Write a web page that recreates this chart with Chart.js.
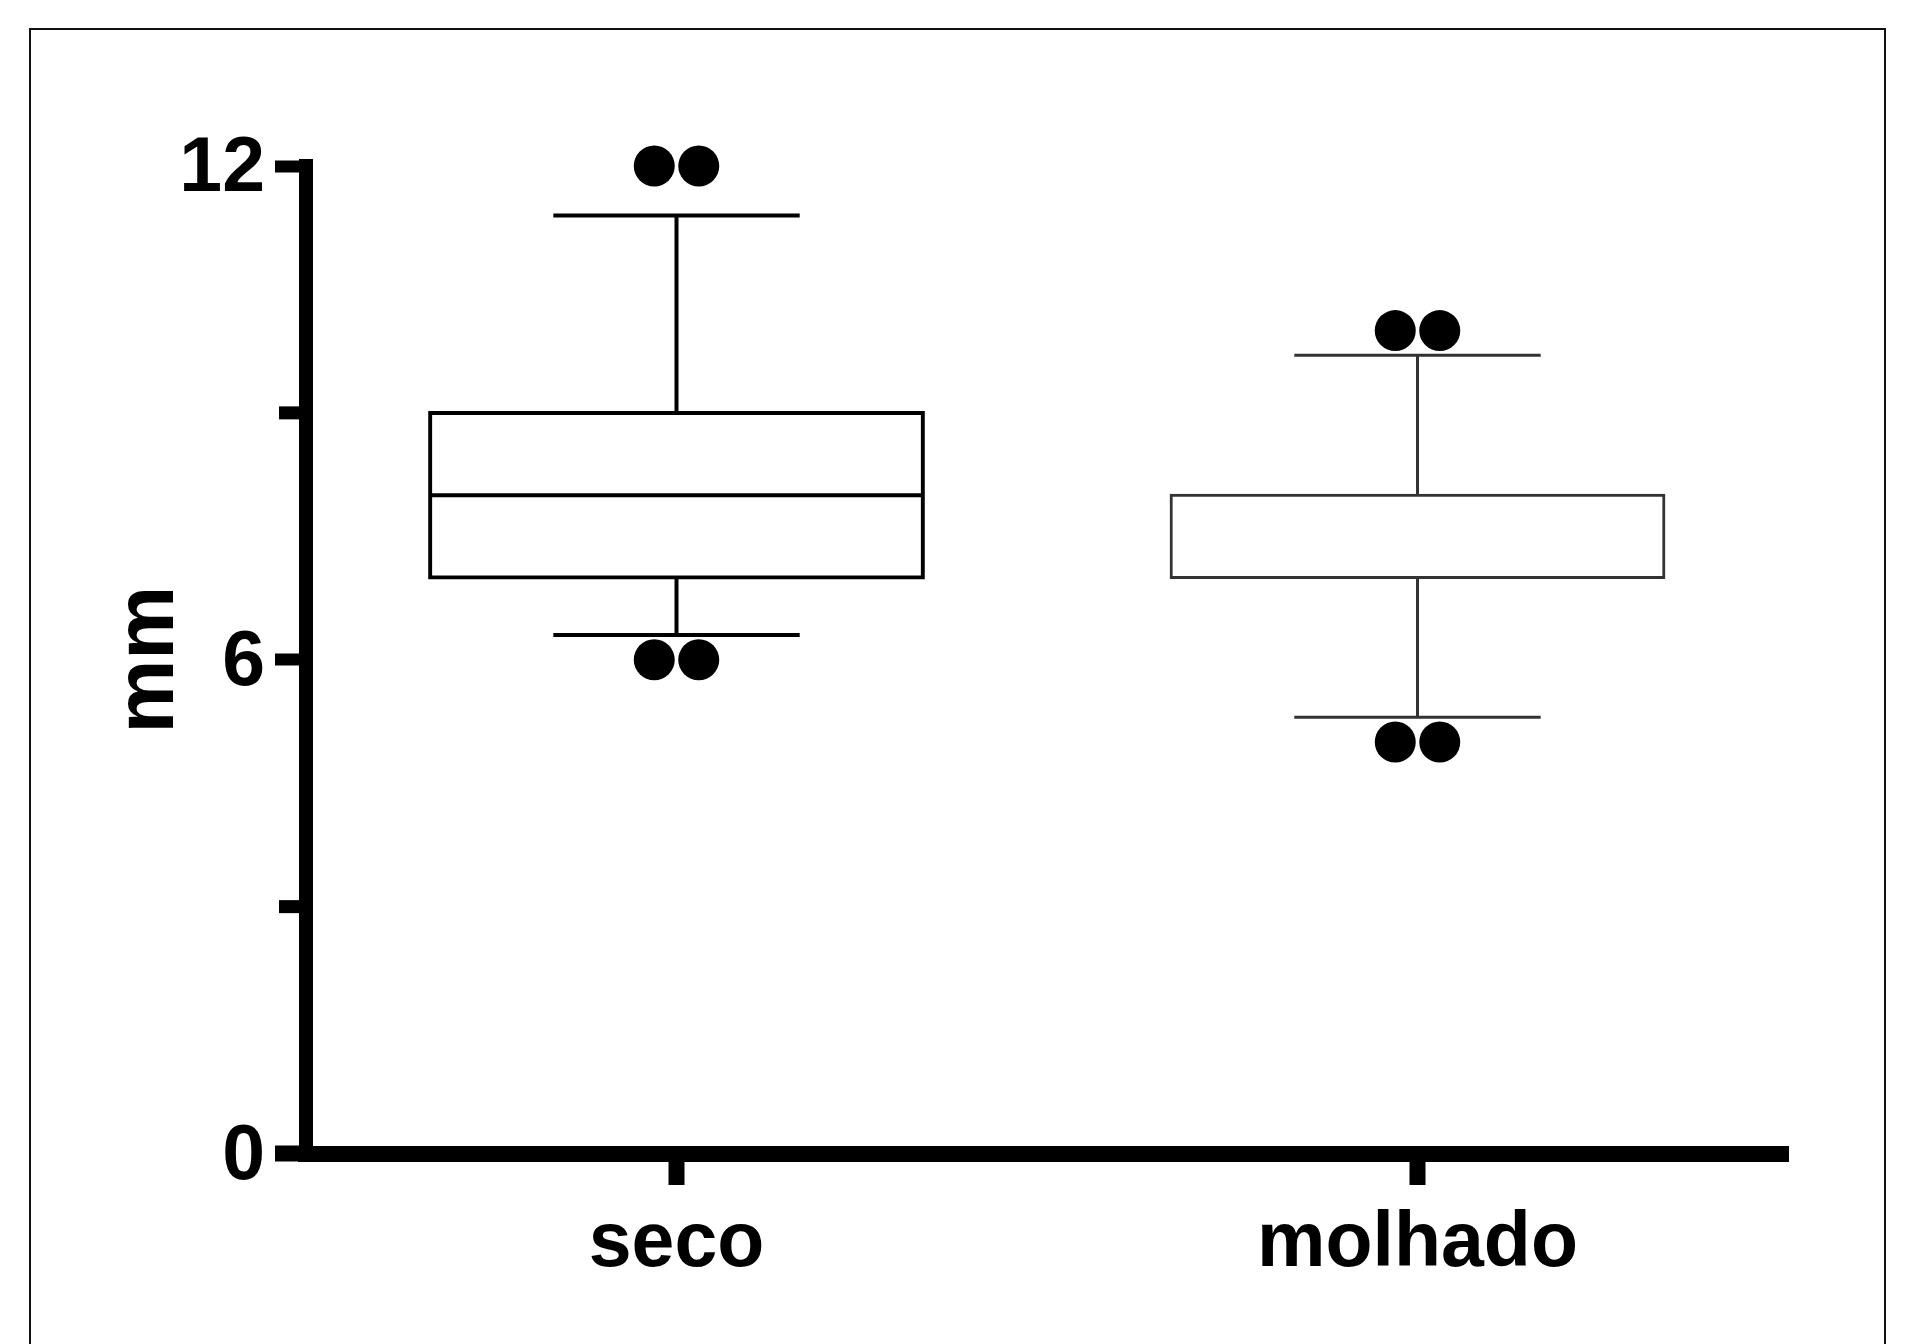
<!DOCTYPE html>
<html>
<head>
<meta charset="utf-8">
<title>seco x molhado</title>
<script src="https://cdn.jsdelivr.net/npm/chart.js@4.4.1/dist/chart.umd.min.js"></script>
<style>
    html, body { margin: 0; padding: 0; background: #fff; overflow: hidden; }
    #Wrap { position: relative; width: 1911px; height: 1344px; }
    #BoxChart { position: absolute; left: 0; top: 0; }
    #Frame { position: absolute; left: 29px; top: 28px; width: 1853px; height: 1400px;
             border: 2px solid #111; border-bottom: none; pointer-events: none; }
</style>
</head>
<body>
<div id="Wrap">
    <canvas id="BoxChart" width="1911" height="1344"></canvas>
    <div id="Frame"></div>
</div>
<script>
// values
var categories = ["seco", "molhado"];
var lowerQuartile = [7, 7];
var medianValue = [8, 7];
var upperQuartile = [9, 8];
var lowerWhisker = [6.3, 5.3];
var upperWhisker = [11.4, 9.7];
var outliersSeco = [12, 12, 6, 6];
var outliersMolhado = [10, 10, 5, 5];
var yTickValues = [0, 3, 6, 9, 12];
var yLabelValues = [0, 6, 12];

// looks
var fontFamily = "'Liberation Sans', Arial, Helvetica, sans-serif";
var boxColors = ["#000000", "#333333"];
var boxLineWidths = [4, 3];
var dotRadius = 20.5;
var dotSpacing = 44.5;

var boxPlotPlugin = {
    id: "boxPlot",
    afterDatasetsDraw: function (chart) {
        var ctx = chart.ctx;
        var y = chart.scales.y;
        var bars = chart.getDatasetMeta(0).data;
        var outliers = [outliersSeco, outliersMolhado];

        bars.forEach(function (bar, i) {
            var cx = bar.x;
            var half = bar.width / 2;
            var capHalf = bar.width / 4;
            ctx.save();
            ctx.strokeStyle = boxColors[i];
            ctx.lineWidth = boxLineWidths[i];
            ctx.lineCap = "butt";

            // whiskers
            ctx.beginPath();
            ctx.moveTo(cx, y.getPixelForValue(upperQuartile[i]));
            ctx.lineTo(cx, y.getPixelForValue(upperWhisker[i]));
            ctx.moveTo(cx - capHalf, y.getPixelForValue(upperWhisker[i]));
            ctx.lineTo(cx + capHalf, y.getPixelForValue(upperWhisker[i]));
            ctx.moveTo(cx, y.getPixelForValue(lowerQuartile[i]));
            ctx.lineTo(cx, y.getPixelForValue(lowerWhisker[i]));
            ctx.moveTo(cx - capHalf, y.getPixelForValue(lowerWhisker[i]));
            ctx.lineTo(cx + capHalf, y.getPixelForValue(lowerWhisker[i]));
            ctx.stroke();

            // median
            ctx.beginPath();
            ctx.moveTo(cx - half, y.getPixelForValue(medianValue[i]));
            ctx.lineTo(cx + half, y.getPixelForValue(medianValue[i]));
            ctx.stroke();
            ctx.restore();

            // outliers, tied values side by side
            var counts = {};
            outliers[i].forEach(function (v) { counts[v] = (counts[v] || 0) + 1; });
            var seen = {};
            ctx.save();
            ctx.fillStyle = "#000";
            outliers[i].forEach(function (v) {
                var k = seen[v] || 0;
                seen[v] = k + 1;
                var dx = (k - (counts[v] - 1) / 2) * dotSpacing;
                ctx.beginPath();
                ctx.arc(cx + dx, y.getPixelForValue(v), dotRadius, 0, Math.PI * 2);
                ctx.fill();
            });
            ctx.restore();
        });
    },
    afterDraw: function (chart) {
        // short minor ticks on the y axis
        var ctx = chart.ctx;
        var y = chart.scales.y;
        var left = chart.chartArea.left - 7;
        ctx.save();
        ctx.strokeStyle = "#000";
        ctx.lineWidth = 13;
        yTickValues.forEach(function (v) {
            if (yLabelValues.indexOf(v) !== -1) return;
            var py = y.getPixelForValue(v);
            ctx.beginPath();
            ctx.moveTo(left, py);
            ctx.lineTo(left - 20, py);
            ctx.stroke();
        });
        ctx.restore();
    }
};

function setupBoxChart() {
    var boxContext = document.getElementById("BoxChart").getContext("2d");
    var boxChart = new Chart(boxContext, {
        type: "bar",
        data: {
            labels: categories,
            datasets: [{
                label: "mm",
                data: categories.map(function (c, i) {
                    return [lowerQuartile[i], upperQuartile[i]];
                }),
                backgroundColor: "#ffffff",
                borderColor: boxColors,
                borderWidth: boxLineWidths,
                borderSkipped: false,
                inflateAmount: function (c) { return boxLineWidths[c.dataIndex] / 2; },
                barPercentage: 0.665,
                categoryPercentage: 1
            }]
        },
        options: {
            responsive: false,
            devicePixelRatio: 1,
            animation: false,
            events: [],
            layout: { padding: { left: 0, top: 166, right: 123, bottom: 0 } },
            plugins: {
                legend: { display: false },
                tooltip: { enabled: false }
            },
            scales: {
                x: {
                    type: "category",
                    offset: true,
                    afterFit: function (scale) { scale.height = 190.5; },
                    grid: {
                        offset: false,
                        drawOnChartArea: false,
                        drawTicks: true,
                        tickLength: 31.5,
                        tickWidth: 16,
                        tickColor: "#000"
                    },
                    border: { display: true, color: "#000", width: 16 },
                    ticks: {
                        color: "#000",
                        padding: 14,
                        font: { family: fontFamily, size: 77, weight: "bold" }
                    }
                },
                y: {
                    type: "linear",
                    min: 0,
                    max: 12,
                    afterFit: function (scale) { scale.width = 306; },
                    afterBuildTicks: function (scale) {
                        scale.ticks = yTickValues.map(function (v) { return { value: v }; });
                    },
                    grid: {
                        drawOnChartArea: false,
                        drawTicks: true,
                        tickLength: 31,
                        tickWidth: function (c) { return c.tick && c.tick.value === 0 ? 16 : 12; },
                        tickColor: function (c) {
                            return c.tick && yLabelValues.indexOf(c.tick.value) !== -1 ? "#000" : "rgba(0,0,0,0)";
                        }
                    },
                    border: { display: true, color: "#000", width: 14 },
                    ticks: {
                        autoSkip: false,
                        color: "#000",
                        padding: 10,
                        labelOffset: 4,
                        font: { family: fontFamily, size: 77, weight: "bold" },
                        callback: function (value) {
                            return yLabelValues.indexOf(value) !== -1 ? value : "";
                        }
                    },
                    title: {
                        display: true,
                        text: "mm",
                        color: "#000",
                        padding: { top: 100, bottom: 0 },
                        font: { family: fontFamily, size: 83, weight: "bold" }
                    }
                }
            }
        },
        plugins: [boxPlotPlugin]
    });
}

setupBoxChart();
</script>
</body>
</html>
